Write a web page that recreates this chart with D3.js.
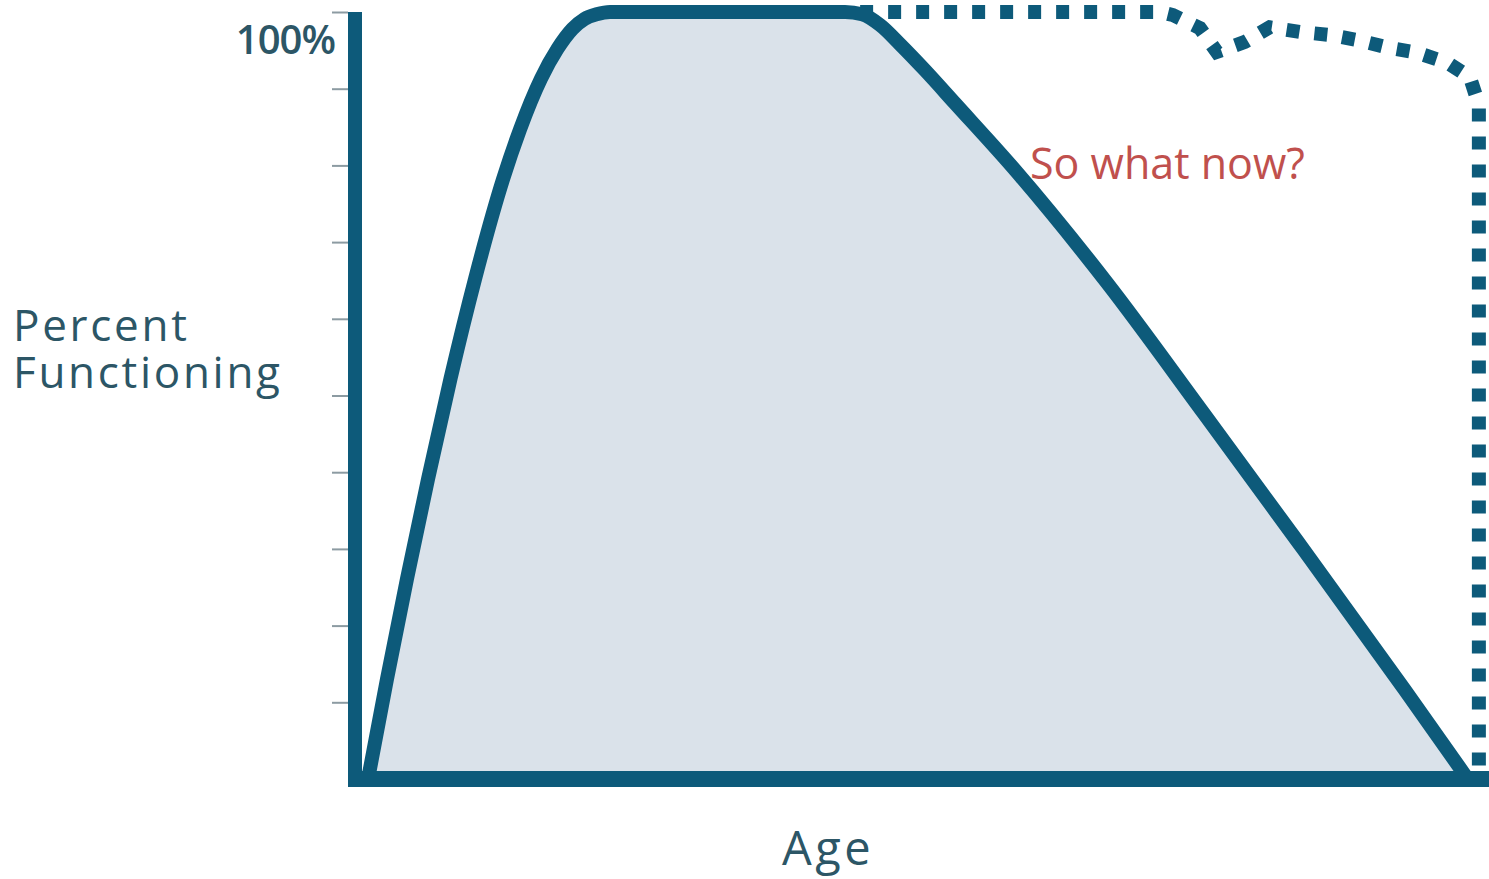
<!DOCTYPE html>
<html>
<head>
<meta charset="utf-8">
<script src="https://cdn.jsdelivr.net/npm/d3@7"></script>
<style>
  html, body { margin: 0; padding: 0; background: #fff; }
  svg { display: block; }
</style>
</head>
<body>
<div id="chart"></div>
<script>
// values: age (0-100 across the axis) and percent functioning
const curveAges   = [1.16, 2.84, 4.62, 6.49, 8.49, 10.67, 13.16, 14.67, 16.53, 18.0, 19.33, 20.4, 21.47, 22.67,
                     43.56, 45.07, 46.67, 48.44, 50.67, 53.33, 58.67, 66.84, 75.38, 83.82, 93.33, 98.67];
const curveValues = [0, 13.0, 26.1, 39.1, 52.2, 65.2, 78.2, 84.7, 91.3, 95.2, 97.8, 99.1, 99.7, 100,
                     100, 99.7, 98.3, 95.8, 92.4, 88.1, 79.4, 64.7, 47.8, 30.9, 11.6, 0.5];

// the dotted "what could be" line
const altAges   = [44.9, 71.6, 72.7, 75.1, 76.6, 79.1, 81.3, 84.0, 86.7, 89.2, 91.7, 94.4, 97.1, 99.1, 99.9, 99.9];
const altValues = [100, 100, 99.6, 97.9, 94.8, 96.1, 98.0, 97.4, 97.0, 96.3, 95.4, 94.7, 93.4, 91.5, 87.9, 0];

const yTicks = [10, 20, 30, 40, 50, 60, 70, 80, 90, 100];
const topLabel = "100%";
const yLabel = ["Percent", "Functioning"];
const xLabel = "Age";
const note = "So what now?";

const width = 1489, height = 879;
const lineColor = "#0d5a7a";
const textColor = "#2c5666";

const svg = d3.select("#chart").append("svg")
    .attr("width", width)
    .attr("height", height);

svg.append("rect").attr("width", width).attr("height", height).attr("fill", "#fff");

const x = d3.scaleLinear().domain([0, 100]).range([355, 1480]);
const y = d3.scaleLinear().domain([0, 100]).range([779, 12]);

const curveData = curveAges.map((a, i) => ({ age: a, value: curveValues[i] }));
const altData = altAges.map((a, i) => ({ age: a, value: altValues[i] }));

// shaded area under the life curve
const area = d3.area()
    .x(d => x(d.age))
    .y0(y(0))
    .y1(d => y(d.value))
    .curve(d3.curveMonotoneX);

svg.append("path")
    .datum(curveData)
    .attr("fill", "#dae2ea")
    .attr("d", area);

// tick marks on the left
const yAxis = d3.axisLeft(y)
    .tickValues(yTicks)
    .tickSize(16)
    .tickFormat("");
const gy = svg.append("g")
    .attr("transform", `translate(${x(0) - 7},0)`)
    .call(yAxis);
gy.select(".domain").remove();
gy.selectAll(".tick line").attr("stroke", "#8c9ba2").attr("stroke-width", 2);

// dotted line
const altLine = d3.line()
    .x(d => x(d.age))
    .y(d => y(d.value));

svg.append("path")
    .datum(altData)
    .attr("fill", "none")
    .attr("stroke", lineColor)
    .attr("stroke-width", 14)
    .attr("stroke-dasharray", "13,15")
    .attr("stroke-linejoin", "miter")
    .attr("d", altLine);

// solid curve
const line = d3.line()
    .x(d => x(d.age))
    .y(d => y(d.value))
    .curve(d3.curveMonotoneX);

svg.append("path")
    .datum(curveData)
    .attr("fill", "none")
    .attr("stroke", lineColor)
    .attr("stroke-width", 14)
    .attr("stroke-linejoin", "round")
    .attr("d", line);

// axis lines
svg.append("line")
    .attr("x1", x(0)).attr("x2", x(0))
    .attr("y1", y(100)).attr("y2", y(0) + 8)
    .attr("stroke", lineColor)
    .attr("stroke-width", 14);

svg.append("line")
    .attr("x1", x(0) - 7).attr("x2", width)
    .attr("y1", y(0)).attr("y2", y(0))
    .attr("stroke", lineColor)
    .attr("stroke-width", 16);

// labels
const labelFont = "'Open Sans', sans-serif";

svg.append("text")
    .attr("x", x(0) - 20)
    .attr("y", y(100) + 42)
    .attr("text-anchor", "end")
    .attr("font-family", labelFont)
    .attr("font-size", 40)
    .attr("font-weight", 600)
    .attr("letter-spacing", -1)
    .attr("fill", textColor)
    .text(topLabel);

yLabel.forEach((t, i) => {
    svg.append("text")
        .attr("x", 13)
        .attr("y", 341 + i * 47)
        .attr("font-family", labelFont)
        .attr("font-size", 44)
        .attr("letter-spacing", 2.7)
        .attr("fill", textColor)
        .text(t);
});

svg.append("text")
    .attr("x", 828)
    .attr("y", 865)
    .attr("text-anchor", "middle")
    .attr("font-family", labelFont)
    .attr("font-size", 47)
    .attr("letter-spacing", 3.5)
    .attr("fill", textColor)
    .text(xLabel);

svg.append("text")
    .attr("x", 1030)
    .attr("y", 179)
    .attr("font-family", labelFont)
    .attr("font-size", 43)
    .attr("fill", "#c0504d")
    .text(note);
</script>
</body>
</html>
